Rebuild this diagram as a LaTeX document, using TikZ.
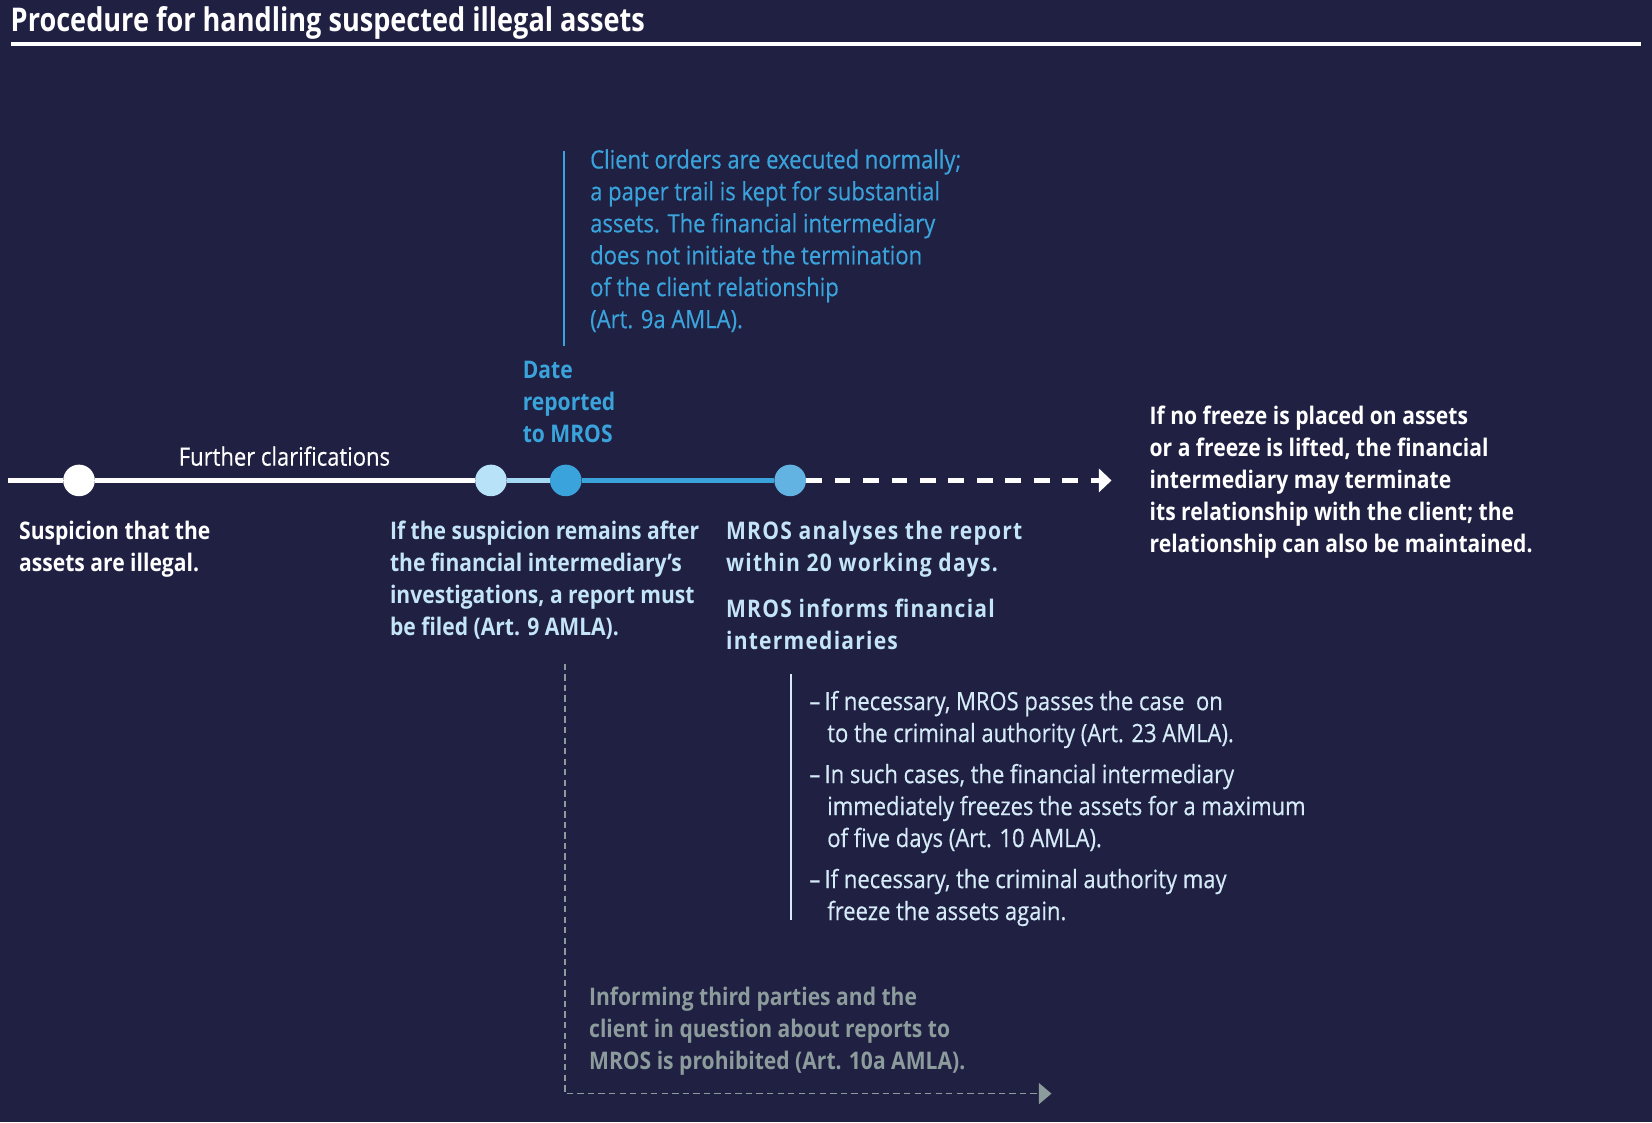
\documentclass[tikz,border=0pt]{standalone}
\usepackage{fontspec}
\setmainfont{Open Sans}[FakeStretch=0.87, UprightFeatures={FakeBold=0.4}]
\newfontfamily\titlefont{Open Sans}[FakeStretch=0.83]
\usetikzlibrary{arrows.meta,positioning}
\definecolor{navy}{RGB}{31,32,66}
\definecolor{myblue}{RGB}{59,163,219}
\definecolor{paleblue}{RGB}{184,226,247}
\definecolor{midblue}{RGB}{98,178,226}
\definecolor{icetext}{RGB}{196,228,247}
\definecolor{bullettext}{RGB}{214,235,248}
\definecolor{greytext}{RGB}{140,155,155}
\tikzset{
    label/.style   = {inner sep=0pt, align=left, font=\fontsize{24}{30.3}\selectfont},
    txt/.style     = {label, anchor=north west, yshift=17.5pt,
            execute at begin node=\strut},
    boldtxt/.style = {txt, font=\fontsize{23}{30.3}\selectfont\bfseries},
    spaced/.style  = {txt, font=\fontsize{23}{30.3}\selectfont\bfseries\addfontfeature{LetterSpace=5}},
    dot/.style     = {circle, minimum size=30pt, inner sep=0pt},
    track/.style   = {line width=4pt},
    rail/.style    = {line width=2pt},
}

\begin{document}
\begin{tikzpicture}[x=1pt, y=-1pt]
    \fill[navy] (0,0) rectangle (1568,1065);
    \useasboundingbox (0,0) rectangle (1568,1065);

    % Title
    \node[label, white, anchor=base west, font=\fontsize{31}{34}\titlefont\bfseries] (title) at (10,30)
        {Procedure for handling suspected illegal assets};
    \draw[white, line width=3.5pt] (10,42) -- (1558,42);

    % Timeline dots
    \coordinate (left) at (8,456);
    \node[dot, fill=white]    (suspect) at (75,456) {};
    \node[dot, fill=paleblue] (remains) at (466,456) {};
    \node[dot, fill=myblue]   (report)  at (537,456) {};
    \node[dot, fill=midblue]  (analyse) at (750,456) {};
    \coordinate (future) at (1055,456);

    % Timeline
    \draw[track, white] (left) -- (suspect);
    \draw[track, white] (suspect) -- (remains);
    \draw[track, paleblue!85!myblue] (remains) -- (report);
    \draw[track, myblue] (report) -- (analyse);
    \draw[track, white, dash pattern=on 15pt off 12pt,
        -{Triangle[length=12pt, width=22pt]}] (analyse) -- (future);

    % Texts on the line
    \node[label, white, anchor=base] (further) at (270,442) {Further clarifications};
    \node[boldtxt, myblue] (date) at (496,360) {Date\\reported\\to MROS};

    % Client orders
    \node[txt, myblue] (orders) at (560,159)
        {Client orders are executed normally;\\a paper trail is kept for substantial\\assets. The financial intermediary\\does not initiate the termination\\of the client relationship\\(Art. 9a AMLA).};
    \draw[rail, myblue] (535,143) -- (535,328);

    % Texts below the line
    \node[boldtxt, white] (illegal) at (18,512) {Suspicion that the\\assets are illegal.};
    \node[boldtxt, icetext] (filed) at (370,512)
        {If the suspicion remains after\\the financial intermediary’s\\investigations, a report must\\be filed (Art. 9 AMLA).};
    \node[spaced, icetext] (analyses) at (689,512) {MROS analyses the report\\within 20 working days.};
    \node[spaced, icetext] (informs) at (689,586) {MROS informs financial\\intermediaries};

    % Further steps
    \node[txt, bullettext] (steps) at (768,673)
        {–\,If necessary, MROS passes the case \ on\\
        \hspace*{17pt}to the criminal authority (Art. 23 AMLA).\\[8.7pt]
        –\,In such cases, the financial intermediary\\
        \hspace*{17pt}immediately freezes the assets for a maximum\\
        \hspace*{17pt}of five days (Art. 10 AMLA).\\[8.7pt]
        –\,If necessary, the criminal authority may\\
        \hspace*{17pt}freeze the assets again.};
    \draw[rail, bullettext] (751,640) -- (751,873);

    % End of the line
    \node[boldtxt, white] (freeze) at (1091,403)
        {If no freeze is placed on assets\\or a freeze is lifted, the financial\\intermediary may terminate\\its relationship with the client; the\\relationship can also be maintained.};

    % Prohibition
    \node[boldtxt, greytext] (thirdparty) at (559,954)
        {Informing third parties and the\\client in question about reports to\\MROS is prohibited (Art. 10a AMLA).};
    \coordinate (gtop) at (536,630);
    \coordinate (gend) at (998,1038);
    \draw[greytext, line width=1.5pt, dash pattern=on 6pt off 4pt,
        -{Triangle[length=12pt, width=20pt]}] (gtop) |- (gend);
\end{tikzpicture}
\end{document}
